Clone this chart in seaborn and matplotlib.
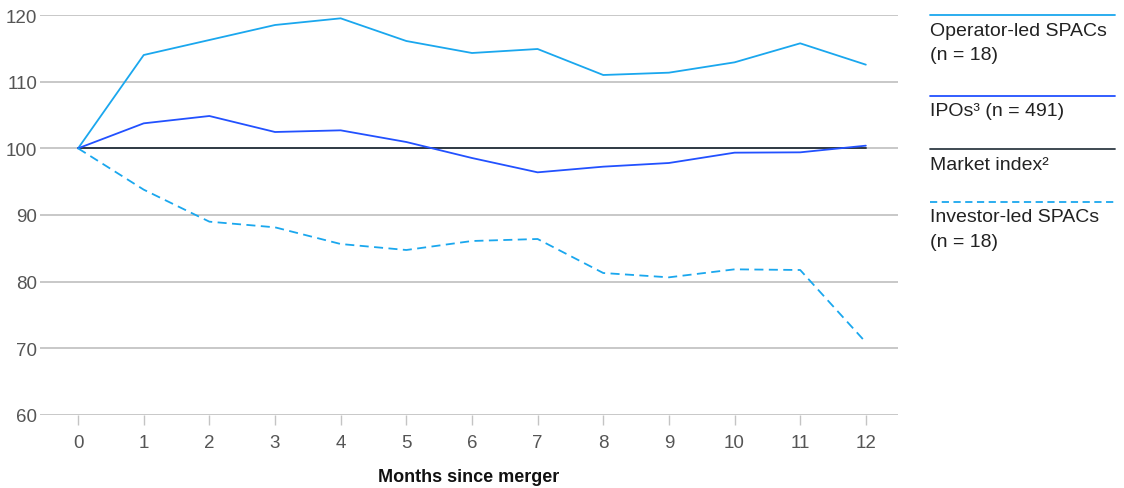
import matplotlib
matplotlib.use("Agg")
import matplotlib.pyplot as plt
from matplotlib.lines import Line2D
import seaborn as sns
import pandas as pd

# data
months = list(range(13))
operator_led = [100, 114.0, 116.25, 118.5, 119.5, 116.1, 114.3, 114.9, 111.0, 111.35, 112.9, 115.75, 112.55]
ipos = [100, 103.75, 104.85, 102.45, 102.7, 100.95, 98.55, 96.4, 97.25, 97.8, 99.35, 99.4, 100.4]
market_index = [100] * 13
investor_led = [100, 93.8, 89.0, 88.15, 85.65, 84.75, 86.1, 86.4, 81.3, 80.65, 81.85, 81.75, 70.9]

y_ticks = [60, 70, 80, 90, 100, 110, 120]

c_oper = "#1aa7ee"
c_ipo = "#2251ff"
c_mkt = "#2f3a44"
c_inv = "#1aa7ee"
c_grid = "#c4c4c4"

sns.set_theme(style="white")
plt.rcParams["font.family"] = ["Liberation Sans", "DejaVu Sans"]

fig = plt.figure(figsize=(11.24, 4.89), dpi=100)
ax = fig.add_axes([40 / 1124, 1 - 416 / 489, (898 - 40) / 1124, 400 / 489])

for y in y_ticks:
    ax.axhline(y, color=c_grid, lw=1.3, zorder=1)

df = pd.DataFrame({"month": months, "oper": operator_led, "ipo": ipos,
                   "mkt": market_index, "inv": investor_led})

sns.lineplot(data=df, x="month", y="mkt", ax=ax, color=c_mkt, lw=1.4, zorder=3)
sns.lineplot(data=df, x="month", y="oper", ax=ax, color=c_oper, lw=1.3, zorder=4)
sns.lineplot(data=df, x="month", y="ipo", ax=ax, color=c_ipo, lw=1.3, zorder=4)
sns.lineplot(data=df, x="month", y="inv", ax=ax, color=c_inv, lw=1.3, zorder=4,
             linestyle=(0, (5, 3)))

ax.set_xlim(-0.58, 12.49)
ax.set_ylim(60, 120)
ax.set_xticks(months)
ax.set_yticks(y_ticks)
for s in ax.spines.values():
    s.set_visible(False)
ax.tick_params(axis="y", length=0, pad=2, labelsize=13.5, labelcolor="#555555")
ax.tick_params(axis="x", length=7, width=1, color=c_grid, pad=7, labelsize=13.5,
               labelcolor="#555555", bottom=True)
ax.set_ylabel("")
ax.set_xlabel("Months since merger", fontsize=13, fontweight="bold", color="#111111", labelpad=12)

# legend on the right
W, H = 1124, 489
legend_items = [
    (16, "-", c_oper, ["Operator-led SPACs", "(n = 18)"]),
    (97, "-", c_ipo, ["IPOs\u00b3 (n = 491)"]),
    (150, "-", c_mkt, ["Market index\u00b2"]),
    (203, "--", c_inv, ["Investor-led SPACs", "(n = 18)"]),
]
for ypix, ls, col, lines in legend_items:
    yf = 1 - ypix / H
    fig.add_artist(Line2D([930 / W, 1115 / W], [yf, yf], color=col, lw=1.3,
                          linestyle=(0, (4, 2.5)) if ls == "--" else "-"))
    for i, txt in enumerate(lines):
        fig.text(930 / W, 1 - (ypix + 15 + 25 * i) / H, txt, fontsize=14,
                 color="#222222", va="center", ha="left")

fig.savefig("out.png", dpi=100)
